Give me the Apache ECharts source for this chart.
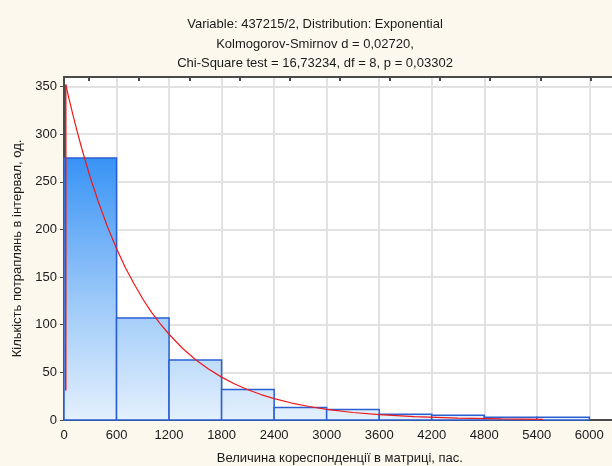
<!DOCTYPE html>
<html>
<head>
<meta charset="utf-8">
<script src="https://cdn.jsdelivr.net/npm/echarts@6/dist/echarts.min.js"></script>
<style>
  html, body { margin: 0; padding: 0; background: #fdf8ee; }
  #chart { width: 612px; height: 466px; }
</style>
</head>
<body>
<div id="chart"></div>
<script>
// Histogram bins (lower edge, upper edge) and observed counts
const binStarts = [0, 600, 1200, 1800, 2400, 3000, 3600, 4200, 4800, 5400];
const binEnds   = [600, 1200, 1800, 2400, 3000, 3600, 4200, 4800, 5400, 6000];
const counts    = [275, 107, 63, 32, 13, 11, 6, 5, 3, 3];

// Fitted exponential expected frequencies (x, count)
const fitX = [20, 50, 100, 150, 200, 250, 300, 400, 500, 600, 700, 800, 900, 1000, 1100, 1200, 1350, 1500, 1650, 1800, 1950, 2100, 2250, 2400, 2600, 2800, 3000, 3300, 3600, 4000, 4500, 5000, 5470];
const fitY = [352, 340, 321, 303, 286, 270, 254.5, 227, 202, 180, 160, 143, 127, 113, 101, 90, 75.6, 63.5, 53.5, 45, 37.8, 31.8, 26.7, 22.5, 17.8, 14.2, 11.2, 7.9, 5.6, 3.5, 2.0, 1.1, 0.6];
// Vertical rise of the fitted curve at its start
const riseX = [20, 20];
const riseY = [31, 352];

const xTicks = [0, 600, 1200, 1800, 2400, 3000, 3600, 4200, 4800, 5400, 6000];
const topTicks = ['', '', '', '', '', '', '', '', '', '', ''];

const titleLines = [
  'Variable: 437215/2, Distribution: Exponential',
  'Kolmogorov-Smirnov d = 0,02720,',
  'Chi-Square test = 16,73234, df = 8, p = 0,03302'
];
const xName = 'Величина кореспонденції в матриці, пас.';
const yName = 'Кількість потраплянь в інтервал, од.';

const FONT = '"Liberation Sans", Arial, sans-serif';

const binData = binStarts.map((s, i) => [s, binEnds[i], counts[i]]);
const fitData = fitX.map((x, i) => [x, fitY[i]]);
const riseData = riseX.map((x, i) => [x, riseY[i]]);

const chart = echarts.init(document.getElementById('chart'), null, { renderer: 'canvas' });

const barFill = {
  type: 'linear', x: 0, y: 150, x2: 0, y2: 420, global: true,
  colorStops: [
    { offset: 0, color: '#3390f6' },
    { offset: 0.55, color: '#9ac8f8' },
    { offset: 1, color: '#e4f0fd' }
  ]
};

chart.setOption({
  backgroundColor: '#fdf8ee',
  animation: false,
  title: {
    text: titleLines.join('\n'),
    left: 310, top: 10, textAlign: 'center',
    textStyle: { fontFamily: FONT, fontSize: 13, fontWeight: 'normal', color: '#1a1a1a', lineHeight: 19.5 }
  },
  grid: {
    left: 64, top: 77, width: 551.6, height: 343,
    outerBoundsMode: 'none', containLabel: false,
    backgroundColor: '#ffffff', show: true, borderWidth: 0
  },
  xAxis: [
    {
      type: 'value', position: 'bottom', min: 0, max: 6300, interval: 600,
      axisLine: { show: true, lineStyle: { color: '#4a4a4a', width: 2 } },
      axisTick: { show: false },
      axisLabel: {
        showMaxLabel: false, fontFamily: FONT, fontSize: 13, color: '#1a1a1a', margin: 9,
        formatter: v => (xTicks.indexOf(v) >= 0 ? String(v) : '')
      },
      splitLine: { show: true, lineStyle: { color: '#e2e2e2', width: 2 } },
      name: xName, nameLocation: 'middle', nameGap: 32,
      nameTextStyle: { fontFamily: FONT, fontSize: 13, color: '#1a1a1a' }
    },
    {
      type: 'category', position: 'top', data: topTicks,
      axisLine: { show: true, lineStyle: { color: '#4a4a4a', width: 2 } },
      axisTick: { show: true, inside: true, alignWithLabel: true, length: 4, lineStyle: { color: '#4a4a4a', width: 2 } },
      axisLabel: { show: false },
      splitLine: { show: false }
    }
  ],
  yAxis: {
    type: 'value', min: 0, max: 360, interval: 50,
    axisLine: { show: true, lineStyle: { color: '#4a4a4a', width: 2 } },
    axisTick: { show: true, length: 4, lineStyle: { color: '#4a4a4a' } },
    axisLabel: { showMaxLabel: false, fontFamily: FONT, fontSize: 13, color: '#1a1a1a', margin: 7 },
    splitLine: { show: true, lineStyle: { color: '#e2e2e2', width: 2 } },
    name: yName, nameLocation: 'middle', nameGap: 33, nameRotate: 90,
    nameTextStyle: { fontFamily: FONT, fontSize: 13, color: '#1a1a1a' }
  },
  series: [
    {
      type: 'custom', xAxisIndex: 0, yAxisIndex: 0, z: 2,
      data: binData,
      renderItem: function (params, api) {
        const pTop = api.coord([api.value(0), api.value(2)]);
        const pBot = api.coord([api.value(1), 0]);
        return {
          type: 'rect',
          shape: { x: pTop[0], y: pTop[1], width: pBot[0] - pTop[0], height: pBot[1] - pTop[1] },
          style: { fill: barFill, stroke: '#2a5fd2', lineWidth: 1.5 }
        };
      }
    },
    {
      type: 'line', xAxisIndex: 0, yAxisIndex: 0, z: 3,
      data: fitData, smooth: false, symbol: 'none',
      lineStyle: { color: '#f01818', width: 1.2 }
    },
    {
      type: 'line', xAxisIndex: 0, yAxisIndex: 0, z: 3,
      data: riseData, symbol: 'none',
      lineStyle: { color: '#f01818', width: 1.5 }
    }
  ]
});
</script>
</body>
</html>
